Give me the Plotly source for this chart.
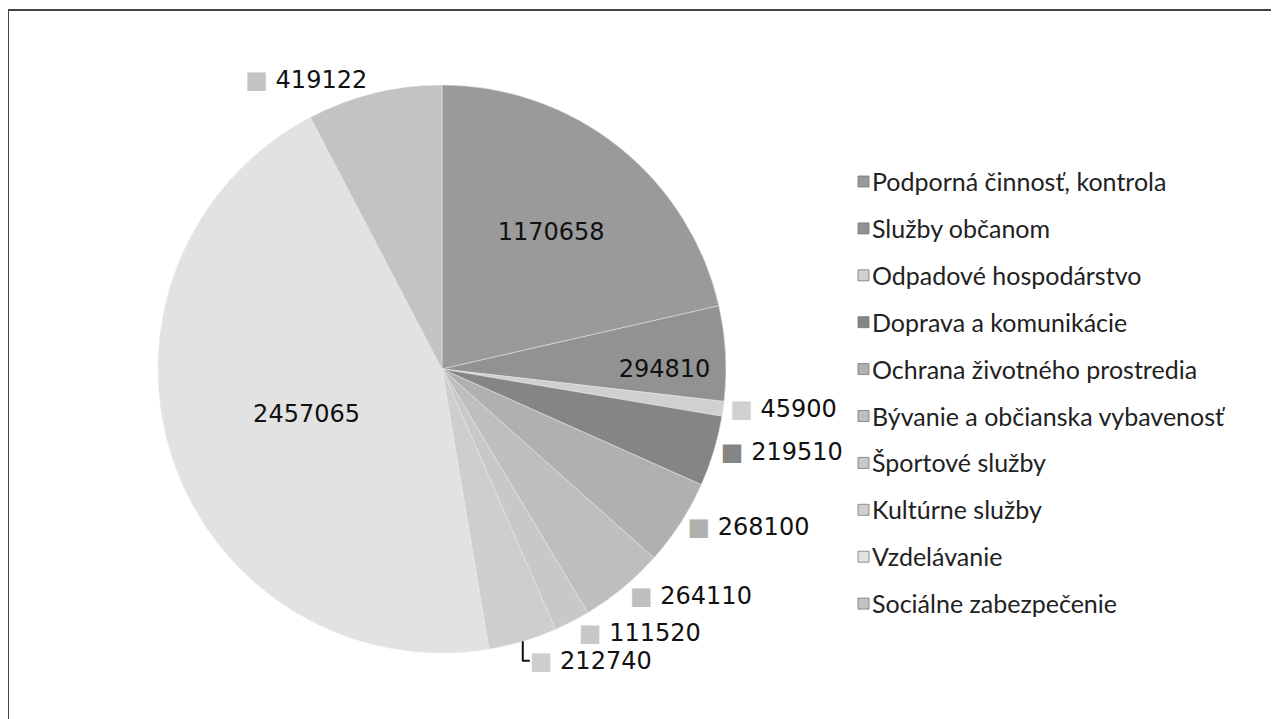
import plotly.graph_objects as go

categories = [
    "Podporná činnosť, kontrola",
    "Služby občanom",
    "Odpadové hospodárstvo",
    "Doprava a komunikácie",
    "Ochrana životného prostredia",
    "Bývanie a občianska vybavenosť",
    "Športové služby",
    "Kultúrne služby",
    "Vzdelávanie",
    "Sociálne zabezpečenie",
]
values = [1170658, 294810, 45900, 219510, 268100, 264110, 111520, 212740, 2457065, 419122]
colors = ["#9a9a9a", "#929292", "#d0d0d0", "#858585", "#b0b0b0",
          "#bebebe", "#c8c8c8", "#cecece", "#e2e2e2", "#c3c3c3"]
label_pos = ["inside", "inside", "outside", "outside", "outside",
             "outside", "outside", "outside", "inside", "outside"]

W, H = 1279, 719
OFF = 8  # page body margin offset

texts = []
for v, c, p in zip(values, colors, label_pos):
    if p == "inside":
        texts.append(f"{v}")
    else:
        texts.append(f"<span style='color:{c}'>■</span> {v}")

cx, cy, R = 442 - OFF, 369 - OFF, 284

fig = go.Figure(go.Pie(
    labels=categories,
    values=values,
    text=texts,
    textinfo="text",
    textposition=label_pos,
    insidetextorientation="horizontal",
    sort=False,
    direction="clockwise",
    rotation=0,
    marker=dict(colors=colors, line=dict(width=0.5, color="#e8e8e8")),
    textfont=dict(family="DejaVu Sans", size=24, color="#111111"),
    showlegend=False,
    hoverinfo="label+value",
    domain=dict(x=[(cx - R) / W, (cx + R) / W], y=[1 - (cy + R) / H, 1 - (cy - R) / H]),
))

# legend drawn manually (evenly spaced rows)
shapes = []
annotations = []
leg_x = 858 - OFF
leg_y0 = 181 - OFF
leg_dy = 46.9
for i, (cat, c) in enumerate(zip(categories, colors)):
    yc = leg_y0 + i * leg_dy
    shapes.append(dict(type="rect", xref="paper", yref="paper",
                       x0=leg_x / W, x1=(leg_x + 11) / W,
                       y0=1 - (yc + 6) / H, y1=1 - (yc - 5) / H,
                       fillcolor=c, line=dict(width=0.8, color="#777777")))
    annotations.append(dict(xref="paper", yref="paper", x=(leg_x + 12) / W, y=1 - yc / H,
                            text=cat, showarrow=False, xanchor="left", yanchor="middle",
                            font=dict(family="Lato", size=25, color="#222222")))

# chart area border
shapes.append(dict(type="rect", xref="paper", yref="paper",
                   x0=0, x1=1.2, y0=-0.2, y1=1 - 2 / H,
                   line=dict(width=2, color="#444444"), fillcolor="rgba(0,0,0,0)"))

fig.update_layout(
    width=W, height=H,
    margin=dict(l=0, r=0, t=0, b=0),
    paper_bgcolor="white",
    plot_bgcolor="white",
    shapes=shapes,
    annotations=annotations,
)

fig.write_html("out.html")
